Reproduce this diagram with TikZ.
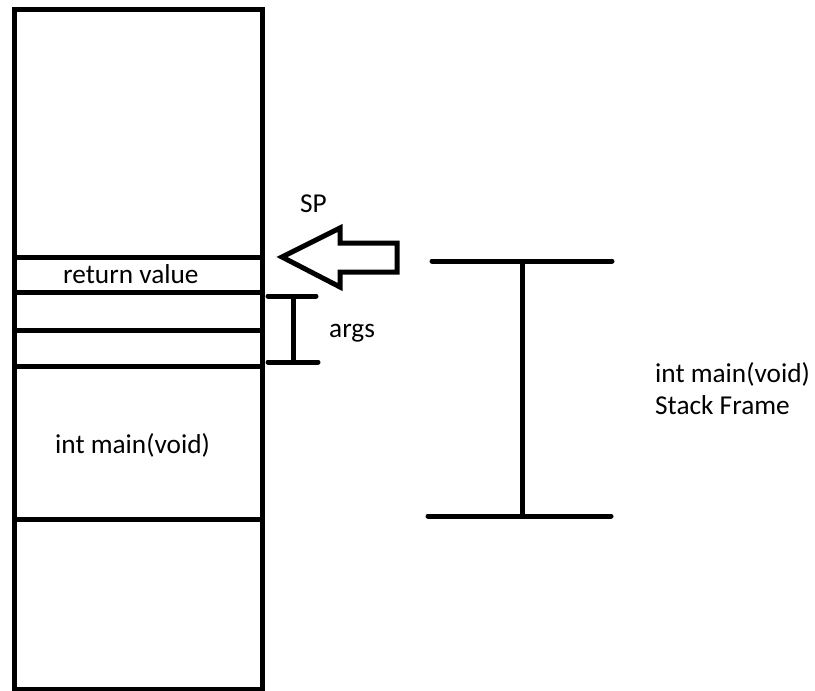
\documentclass[tikz,border=0pt]{standalone}
\usepackage{fontspec}
\setmainfont{Carlito}
\begin{document}
\begin{tikzpicture}[x=1pt,y=-1pt,
  thick line/.style={line width=5pt},
  brace line/.style={line width=5pt,line cap=round},
  label text/.style={inner sep=0pt,anchor=base west,font=\fontsize{27.3}{33.5}\selectfont}]
\useasboundingbox (0,0) rectangle (815,691);
% stack column
\draw[thick line] (14.5,9) rectangle (262.5,689);
\foreach \yy/\nm in {257/l1,292/l2,330/l3,366/l4,519/l5}
  \draw[thick line] (14.5,\yy) coordinate (\nm L) -- (262.5,\yy) coordinate (\nm R);
% texts in stack
\node[label text] (ret) at (63,283) {return value};
\node[label text] (main) at (55,453) {int main(void)};
% SP arrow
\draw[line width=5pt,line join=miter] (282,257) -- (340,228) -- (340,243) -- (397,243) -- (397,272) -- (340,272) -- (340,287) -- cycle;
\node[label text] (sp) at (300,212) {SP};
% args bracket
\coordinate (at1) at (268,296); \coordinate (at2) at (316,296);
\coordinate (ab1) at (268,362); \coordinate (ab2) at (318,362);
\coordinate (am1) at (293,296); \coordinate (am2) at (293,362);
\draw[brace line] (at1) -- (at2);
\draw[brace line] (ab1) -- (ab2);
\draw[line width=5pt] (am1) -- (am2);
\node[label text] (args) at (329,337) {args};
% frame bracket
\coordinate (ft1) at (432,261); \coordinate (ft2) at (612,261);
\coordinate (fb1) at (428,516); \coordinate (fb2) at (611,516);
\coordinate (fm1) at (522,261); \coordinate (fm2) at (522,516);
\draw[brace line] (ft1) -- (ft2);
\draw[brace line] (fb1) -- (fb2);
\draw[line width=5pt] (fm1) -- (fm2);
\node[label text] (fr1) at (655,382) {int main(void)};
\node[label text] (fr2) at (655,414) {Stack Frame};
\end{tikzpicture}
\end{document}
